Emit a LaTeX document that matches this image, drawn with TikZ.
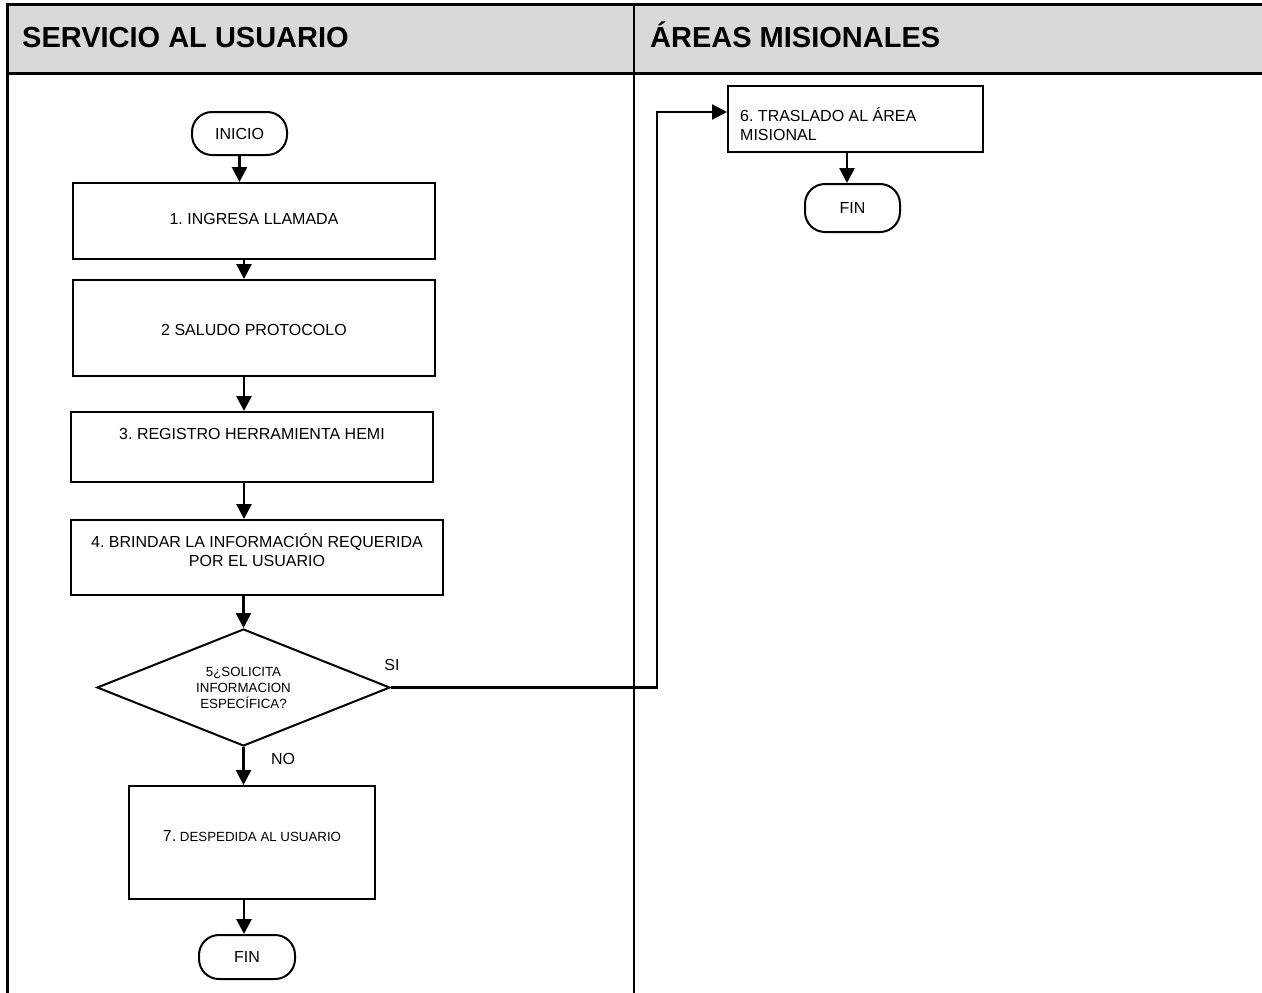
\documentclass[tikz,border=0pt]{standalone}
\usepackage{fontspec}
\setmainfont{Liberation Sans}
\usetikzlibrary{shapes.geometric,arrows.meta,calc}
\definecolor{hdr}{HTML}{D9D9D9}
\frenchspacing
\newcommand{\btxt}{\fontsize{16}{19}\selectfont}
\newcommand{\stxt}{\fontsize{13.3}{16}\selectfont}
\newcommand{\htxt}{\fontsize{29}{33}\selectfont\bfseries}
\begin{document}
\begin{tikzpicture}[x=1pt,y=-1pt,
  proc/.style={draw,line width=2pt,rectangle,inner sep=0pt},
  term/.style={draw,line width=2pt,rectangle,rounded corners=20pt,inner sep=0pt,font=\btxt},
  txt/.style={font=\btxt,align=center,inner sep=0pt},
  lbl/.style={font=\btxt,inner sep=0pt},
  hd/.style={font=\htxt,inner sep=0pt,anchor=base west},
  arr/.style={line width=2.7pt,-{Triangle[length=15pt,width=15pt]}},
  arrb/.style={line width=2.2pt,-{Triangle[length=15pt,width=15pt]}},
  frame/.style={line width=3pt},
  divider/.style={line width=2.5pt}]
\useasboundingbox (0,0) rectangle (1262,993);
\fill[white] (0,0) rectangle (1262,993);
% table
\fill[hdr] (7.5,4) rectangle (1275,73);
\draw[frame] (7.5,1000) -- (7.5,4) -- (1275,4);
\draw[frame] (7.5,73) -- (1275,73);
\draw[divider] (634,4) -- (634,1000);
\node[hd] (h1) at (22,47) {SERVICIO AL USUARIO};
\node[hd] (h2) at (650,47) {ÁREAS MISIONALES};
% left lane
\node[term,minimum width=95pt,minimum height=43pt] (ini) at (239.5,133.5) {INICIO};
\node[proc,minimum width=362pt,minimum height=76pt] (b1) at (254,221) {};
\node[txt] (t1) at (254,219) {1. INGRESA LLAMADA};
\node[proc,minimum width=362pt,minimum height=96pt] (b2) at (254,328) {};
\node[txt] (t2) at (254,330) {2 SALUDO PROTOCOLO};
\node[proc,minimum width=362pt,minimum height=70pt] (b3) at (252,447) {};
\node[txt] (t3) at (252,434) {3. REGISTRO HERRAMIENTA HEMI};
\node[proc,minimum width=372pt,minimum height=75pt] (b4) at (257,557.5) {};
\node[txt] (t4) at (257,550) {4. BRINDAR LA INFORMACIÓN REQUERIDA\\POR EL USUARIO};
\node[diamond,draw,line width=2pt,aspect=2.5,minimum width=293pt,minimum height=117pt,inner sep=0pt,font=\stxt,align=center] (dia) at (243.5,687.5) {5¿SOLICITA\\INFORMACION\\ESPECÍFICA?};
\node[lbl] (si) at (392,665) {SI};
\node[lbl] (no) at (283,759) {NO};
\node[proc,minimum width=246pt,minimum height=113pt] (b7) at (252,842.5) {};
\node[txt] (t7) at (252,836) {\btxt 7.\stxt\ DESPEDIDA AL USUARIO};
\node[term,minimum width=96pt,minimum height=44pt] (fin1) at (247,957) {FIN};
% right lane
\node[proc,minimum width=255pt,minimum height=66pt] (b6) at (855.5,119) {};
\node[txt,align=left,anchor=west] (t6) at (740,124) {6. TRASLADO AL ÁREA\\MISIONAL};
\node[term,minimum width=95pt,minimum height=48pt] (fin2) at (852.5,208) {FIN};
% connectors
\coordinate (col) at (244,0);
\coordinate (c6) at (847,0);
\coordinate (j2) at (657,112);
\draw[arr] (ini.south) -- (ini.south |- b1.north);
\draw[arr] (b1.south -| col) -- (b2.north -| col);
\draw[arr] (b2.south -| col) -- (b3.north -| col);
\draw[arr] (b3.south -| col) -- (b4.north -| col);
\draw[arr] (b4.south -| dia.north) -- (dia.north);
\draw[arr] (dia.south) -- (b7.north -| dia.south);
\draw[arr] (b7.south -| col) -- (fin1.north -| col);
\draw[arrb] (dia.east) -- (dia.east -| j2) -- (j2) -- (j2 -| b6.west);
\draw[arr] (b6.south -| c6) -- (fin2.north -| c6);
\end{tikzpicture}
\end{document}
